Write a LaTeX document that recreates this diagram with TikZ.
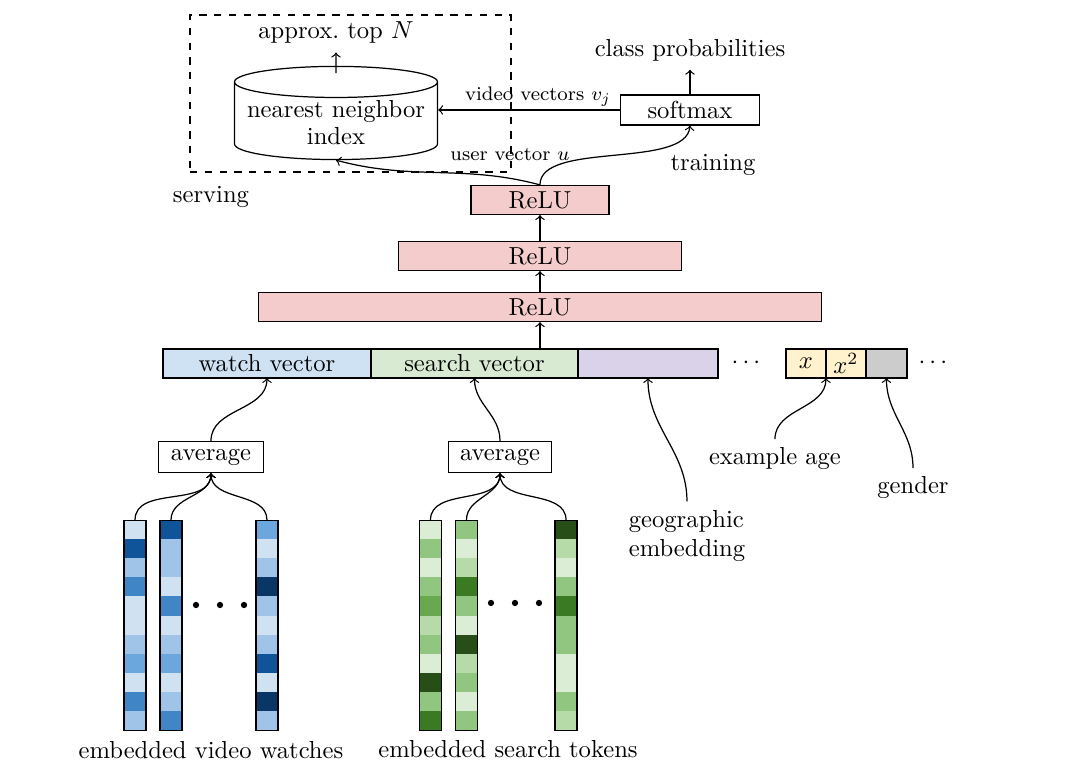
\documentclass[tikz,border=0pt]{standalone}
\usepackage{amsmath}
\usepackage{tikz}
\usetikzlibrary{shapes.geometric}
\usetikzlibrary{positioning}
\definecolor{relufill}{HTML}{F4CCCC}
\definecolor{watchfill}{HTML}{CFE2F3}
\definecolor{searchfill}{HTML}{D9EAD3}
\definecolor{geofill}{HTML}{D9D2E9}
\definecolor{agefill}{HTML}{FFF2CC}
\definecolor{genderfill}{HTML}{CCCCCC}
\definecolor{bl1}{HTML}{D0E1F2}
\definecolor{bl2}{HTML}{A0C4E8}
\definecolor{bl3}{HTML}{6BA7DC}
\definecolor{bl4}{HTML}{4086C6}
\definecolor{bl5}{HTML}{0F5399}
\definecolor{bl6}{HTML}{0A3665}
\definecolor{gr1}{HTML}{DCEDD6}
\definecolor{gr2}{HTML}{B6DBA9}
\definecolor{gr3}{HTML}{90C67F}
\definecolor{gr4}{HTML}{68A94F}
\definecolor{gr5}{HTML}{3A7A22}
\definecolor{gr6}{HTML}{284E17}
\tikzset{every picture/.style={line width=0.5pt}}
\tikzset{box/.style={draw, inner sep=1pt, minimum height=0.43cm},
  relu/.style={box, fill=relufill, minimum height=0.414cm},
  vec/.style={draw, inner sep=1pt, outer sep=0pt, minimum height=0.414cm},
  embcol/.style={draw, anchor=north, inner sep=0pt, minimum width=0.314cm, minimum height=3cm}}

\begin{document}
\begin{tikzpicture}
    \useasboundingbox (0,0) rectangle (15.343,-10.986);

    \node (serve) [draw, dashed, minimum width=4.586cm, minimum height=2.243cm] at (5.007,-1.336) {};
    \node (nn) [cylinder, shape border rotate=90, aspect=0.17, draw, align=center, inner sep=1pt, minimum width=2.9cm, minimum height=1.257cm, anchor=shape center] at (4.8,-1.614) {nearest neighbor\\[-1pt]index};
    \node (topn) at (4.8,-0.471) {approx.\ top $N$};
    \node (softmax) [box, minimum width=1.986cm] at (9.857,-1.571) {softmax};
    \node (classp) at (9.857,-0.714) {class probabilities};
    \node (uvec) at (7.286,-2.214) {\footnotesize user vector $u$};
    \node (train) at (10.186,-2.357) {training};
    \node (serving) at (3.014,-2.814) {serving};

    \node (relu1) [relu, minimum width=1.971cm] at (7.714,-2.857) {ReLU};
    \node (relu2) [relu, minimum width=4.043cm] at (7.714,-3.657) {ReLU};
    \node (relu3) [relu, minimum width=8.043cm] at (7.714,-4.386) {ReLU};

    \node (watch) [vec, fill=watchfill, minimum width=2.971cm] at (3.814,-5.193) {watch vector};
    \node (search) [vec, fill=searchfill, minimum width=2.957cm, right=0pt of watch] {search vector};
    \node (geo) [vec, fill=geofill, minimum width=2cm, right=0pt of search] {};
    \node (dots1) at (10.686,-5.193) {$\cdots$};
    \node (agex) [vec, fill=agefill, minimum width=0.571cm] at (11.514,-5.193) {$x$};
    \node (agex2) [vec, fill=agefill, minimum width=0.571cm, right=0pt of agex] {$x^2$};
    \node (gender) [vec, fill=genderfill, minimum width=0.586cm, right=0pt of agex2] {};
    \node (dots2) at (13.357,-5.193) {$\cdots$};

    \node (avg1) [box, minimum width=1.5cm, minimum height=0.443cm] at (3.014,-6.529) {average};
    \node (avg2) [box, minimum width=1.471cm, minimum height=0.443cm] at (7.143,-6.529) {average};
    \node (geolab) [align=left] at (9.814,-7.657) {geographic\\embedding};
    \node (agelab) at (11.071,-6.557) {example age};
    \node (genderlab) at (13.043,-6.971) {gender};

    \foreach \n/\x/\cl in {w1/1.929/{bl1,bl5,bl2,bl4,bl1,bl1,bl2,bl3,bl1,bl4,bl2},
        w2/2.443/{bl5,bl2,bl2,bl1,bl4,bl1,bl2,bl3,bl1,bl2,bl4},
        w3/3.814/{bl3,bl1,bl2,bl6,bl2,bl1,bl2,bl5,bl1,bl6,bl2},
        s1/6.15/{gr1,gr3,gr1,gr3,gr4,gr2,gr3,gr1,gr6,gr3,gr5},
        s2/6.664/{gr3,gr1,gr2,gr5,gr3,gr1,gr6,gr2,gr3,gr1,gr3},
        s3/8.086/{gr6,gr2,gr1,gr3,gr5,gr3,gr3,gr1,gr1,gr3,gr2}} {
        \foreach \c [count=\i from 0] in \cl
            \fill[\c] (\x-0.157,-7.429-\i*0.273) rectangle ++(0.314,-0.273);
        \node (\n) [embcol] at (\x,-7.429) {};
    }
    \foreach \x in {2.8,3.143,3.486} \fill (\x,-8.643) circle (0.045);
    \foreach \x in {7.014,7.357,7.7} \fill (\x,-8.614) circle (0.045);
    \node (vidlab) at (3.014,-10.714) {embedded video watches};
    \node (searchlab) at (7.257,-10.7) {embedded search tokens};

    \draw[->, shorten <=-3pt] (nn.north) -- (topn.south);
    \draw[->] (softmax.north) -- (classp.south);
    \draw[->] (softmax.west) -- node[above=-2pt, pos=0.45] {\footnotesize video vectors $v_j$} (nn.east |- softmax.west);
    \draw[->] (relu1.north) to[out=165, in=-15] (nn.south);
    \draw[->] (relu1.north) to[out=90, in=-95, looseness=0.7] (softmax.south);
    \draw[->] (relu2) -- (relu1);
    \draw[->] (relu3) -- (relu2);
    \draw[->] (relu3.south |- watch.north) -- (relu3);

    \draw[->] (avg1.north) to[out=90, in=-90] (watch.south);
    \draw[->] (avg2.north) to[out=90, in=-90] (search.south);
    \draw[->] (geolab.north) to[out=90, in=-90] (geo.south);
    \draw[->] (agelab.north) to[out=90, in=-90] (agex.south east);
    \draw[->] (genderlab.north) to[out=90, in=-90] (gender.south);
    \foreach \n in {w1,w2,w3} \draw[->] (\n.north) to[out=90, in=-90] (avg1.south);
    \foreach \n in {s1,s2,s3} \draw[->] (\n.north) to[out=90, in=-90] (avg2.south);
\end{tikzpicture}
\end{document}
